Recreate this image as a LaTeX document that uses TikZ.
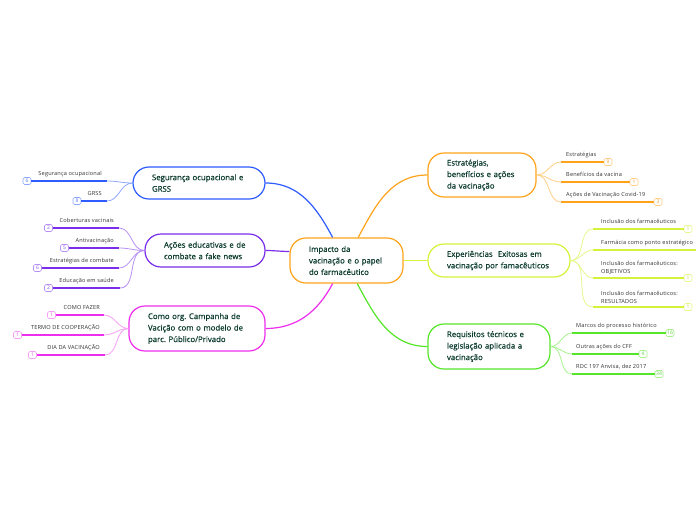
\documentclass[tikz,border=0pt]{standalone}
\usepackage{fontspec}
\setmainfont{Open Sans}
\newfontfamily\nodefont[FakeBold=0.5]{Open Sans}
\newfontfamily\leaffont[LetterSpace=3]{Open Sans}
\frenchspacing
\definecolor{nodetext}{HTML}{0B3B2E}
\definecolor{leaftext}{HTML}{333333}
\definecolor{corange}{HTML}{FFA31A}
\definecolor{lorange}{HTML}{FFCF85}
\definecolor{dorange}{HTML}{F5A030}
\definecolor{cygreen}{HTML}{D4F23A}
\definecolor{lygreen}{HTML}{E6F88C}
\definecolor{dygreen}{HTML}{BFDC30}
\definecolor{cgreen}{HTML}{55E62A}
\definecolor{lgreen}{HTML}{A6F28C}
\definecolor{dgreen}{HTML}{5CD040}
\definecolor{cblue}{HTML}{2E5CFF}
\definecolor{lblue}{HTML}{8FA8FF}
\definecolor{dblue}{HTML}{5C7CF0}
\definecolor{cpurple}{HTML}{7A2EEB}
\definecolor{lpurple}{HTML}{B890F5}
\definecolor{dpurple}{HTML}{8A50E8}
\definecolor{cmagenta}{HTML}{EE2EEE}
\definecolor{lmagenta}{HTML}{F5A0F5}
\definecolor{dmagenta}{HTML}{E050E0}
\begin{document}
\begin{tikzpicture}[x=1pt,y=-1pt,
  mainbox/.style n args={3}{draw=#1, line width=1.2pt, rounded corners=16pt, fill=white,
    font=\nodefont\fontsize{7.8}{11.5}\selectfont, text=nodetext, align=left,
    text width=#2, inner xsep=19pt, inner ysep=2pt, minimum height=#3},
  badge/.style n args={2}{draw=#1, fill=white, rounded corners=1.5pt, line width=0.6pt,
    minimum width=8pt, minimum height=7pt, inner sep=0.8pt,
    font=\fontsize{5}{5}\selectfont, text=#2},
  uline/.style={draw=#1, line width=1.6pt},
  twig/.style={draw=#1, line width=0.8pt},
  branch/.style={draw=#1, line width=1.2pt},
  leaf/.style={font=\leaffont\fontsize{5.6}{7.5}\selectfont, text=leaftext, inner sep=0pt, align=left}]
\fill[white] (0,0) rectangle (696,520);
\useasboundingbox (0,0) rectangle (696,520);

% main nodes
\node[mainbox={corange}{75pt}{45pt}] (core) at (346.5,260.5)
  {\mbox{Impacto da}\\\mbox{vacinação e o papel}\\\mbox{do farmacêutico}};
\node[mainbox={corange}{70pt}{44pt}] (estr) at (482,175)
  {\mbox{Estratégias,}\\\mbox{benefícios e ações}\\\mbox{da vacinação}};
\node[mainbox={cygreen}{104pt}{33pt}] (exp) at (499,260.5)
  {\mbox{Experiências\ \ Exitosas em}\\\mbox{vacinação por famacêuticos}};
\node[mainbox={cgreen}{84pt}{45pt}] (req) at (489,346.5)
  {\mbox{Requisitos técnicos e}\\\mbox{legislação aplicada a}\\\mbox{vacinação}};
\node[mainbox={cblue}{94pt}{32pt}] (seg) at (199,183)
  {\mbox{Segurança ocupacional e}\\\mbox{GRSS}};
\node[mainbox={cpurple}{82pt}{33pt}] (acoes) at (205,250.5)
  {\mbox{Ações educativas e de}\\\mbox{combate a fake news}};
\node[mainbox={cmagenta}{98pt}{45pt}] (como) at (197,328.5)
  {\mbox{Como org. Campanha de}\\\mbox{Vacição com o modelo de}\\\mbox{parc. Público/Privado}};

% main branches
\draw[branch=cblue] (core.121) to[out=118,in=0] (seg.east);
\draw[branch=cpurple] (core.171) to[out=180,in=0] (acoes.east);
\draw[branch=cmagenta] (core.239) to[out=-118,in=0] (como.east);
\draw[branch=corange] (core.63) to[out=62,in=180] (estr.west);
\draw[branch=cygreen] (core.east) -- (exp.west);
\draw[branch=cgreen] (core.295) to[out=-62,in=180] (req.west);

% ---- blue leaves
\coordinate (s1) at (107,181);
\node[badge={lblue}{dblue}] (s1b) at (27,181) {6};
\node[leaf, anchor=base east] (s1t) at (102,175.5) {Segurança ocupacional};
\draw[uline=cblue] (s1b.east) -- (s1);
\draw[twig=lblue] (seg.west) to[out=180,in=0] (s1);
\coordinate (s2) at (107,201);
\node[badge={lblue}{dblue}] (s2b) at (77,201) {8};
\node[leaf, anchor=base east] (s2t) at (102,195.5) {GRSS};
\draw[uline=cblue] (s2b.east) -- (s2);
\draw[twig=lblue] (seg.west) to[out=180,in=0] (s2);

% ---- purple leaves
\coordinate (a1) at (119,228);
\node[badge={lpurple}{dpurple}] (a1b) at (48.5,228) {2};
\node[leaf, anchor=base east] (a1t) at (114,222.5) {Coberturas vacinais};
\draw[uline=cpurple] (a1b.east) -- (a1);
\draw[twig=lpurple] (acoes.west) to[out=180,in=0] (a1);
\coordinate (a2) at (119,248);
\node[badge={lpurple}{dpurple}] (a2b) at (64.5,248) {5};
\node[leaf, anchor=base east] (a2t) at (114,242.5) {Antivacinação};
\draw[uline=cpurple] (a2b.east) -- (a2);
\draw[twig=lpurple] (acoes.west) to[out=180,in=0] (a2);
\coordinate (a3) at (119,268);
\node[badge={lpurple}{dpurple}] (a3b) at (37.5,268) {6};
\node[leaf, anchor=base east] (a3t) at (114,262.5) {Estratégias de combate};
\draw[uline=cpurple] (a3b.east) -- (a3);
\draw[twig=lpurple] (acoes.west) to[out=180,in=0] (a3);
\coordinate (a4) at (120,288);
\node[badge={lpurple}{dpurple}] (a4b) at (48.5,288) {2};
\node[leaf, anchor=base east] (a4t) at (114,282.5) {Educação em saúde};
\draw[uline=cpurple] (a4b.east) -- (a4);
\draw[twig=lpurple] (acoes.west) to[out=180,in=0] (a4);

% ---- magenta leaves
\coordinate (m1) at (104,315);
\node[badge={lmagenta}{dmagenta}] (m1b) at (51.5,315) {1};
\node[leaf, anchor=base east] (m1t) at (100,309.5) {COMO FAZER};
\draw[uline=cmagenta] (m1b.east) -- (m1);
\draw[twig=lmagenta] (como.west) to[out=180,in=0] (m1);
\coordinate (m2) at (104,335);
\node[badge={lmagenta}{dmagenta}] (m2b) at (17.5,335) {1};
\node[leaf, anchor=base east] (m2t) at (100,329.5) {TERMO DE COOPERAÇÃO};
\draw[uline=cmagenta] (m2b.east) -- (m2);
\draw[twig=lmagenta] (como.west) to[out=180,in=0] (m2);
\coordinate (m3) at (105,355);
\node[badge={lmagenta}{dmagenta}] (m3b) at (32.5,355) {1};
\node[leaf, anchor=base east] (m3t) at (100,349.5) {DIA DA VACINAÇÃO};
\draw[uline=cmagenta] (m3b.east) -- (m3);
\draw[twig=lmagenta] (como.west) to[out=180,in=0] (m3);

% ---- orange leaves
\coordinate (e1) at (561,162);
\node[badge={lorange}{dorange}] (e1b) at (608,162) {9};
\node[leaf, anchor=base west] (e1t) at (566,156.5) {Estratégias};
\draw[uline=corange] (e1) -- (e1b.west);
\draw[twig=lorange] (estr.east) to[out=0,in=180] (e1);
\coordinate (e2) at (561,182);
\node[badge={lorange}{dorange}] (e2b) at (634,182) {1};
\node[leaf, anchor=base west] (e2t) at (566,176.5) {Benefícios da vacina};
\draw[uline=corange] (e2) -- (e2b.west);
\draw[twig=lorange] (estr.east) to[out=0,in=180] (e2);
\coordinate (e3) at (561,202);
\node[badge={lorange}{dorange}] (e3b) at (658,202) {3};
\node[leaf, anchor=base west] (e3t) at (566,196.5) {Ações de Vacinação Covid-19};
\draw[uline=corange] (e3) -- (e3b.west);
\draw[twig=lorange] (estr.east) to[out=0,in=180] (e3);

% ---- yellow-green leaves
\coordinate (x1) at (593,229);
\node[badge={lygreen}{dygreen}] (x1b) at (688,229) {1};
\node[leaf, anchor=base west] (x1t) at (601,223.5) {Inclusão dos farmacêuticos};
\draw[uline=cygreen] (x1) -- (x1b.west);
\draw[twig=lygreen] (exp.east) to[out=0,in=180] (x1);
\coordinate (x2) at (593,250);
\coordinate (x2e) at (696,250);
\node[leaf, anchor=base west] (x2t) at (601,244.5) {Farmácia como ponto estratégico};
\draw[uline=cygreen] (x2) -- (x2e);
\draw[twig=lygreen] (exp.east) to[out=0,in=180] (x2);
\coordinate (x3) at (593,278);
\node[badge={lygreen}{dygreen}] (x3b) at (688,278) {1};
\node[leaf, anchor=south west] (x3t) at (601,274.5) {Inclusão dos farmacêuticos:\\OBJETIVOS};
\draw[uline=cygreen] (x3) -- (x3b.west);
\draw[twig=lygreen] (exp.east) to[out=0,in=180] (x3);
\coordinate (x4) at (593,307);
\node[badge={lygreen}{dygreen}] (x4b) at (688,307) {1};
\node[leaf, anchor=south west] (x4t) at (601,303.5) {Inclusão dos farmacêuticos:\\RESULTADOS};
\draw[uline=cygreen] (x4) -- (x4b.west);
\draw[twig=lygreen] (exp.east) to[out=0,in=180] (x4);

% ---- green leaves
\coordinate (r1) at (572,333);
\node[badge={lgreen}{dgreen}] (r1b) at (670,333) {16};
\node[leaf, anchor=base west] (r1t) at (576,327.5) {Marcos do processo histórico};
\draw[uline=cgreen] (r1) -- (r1b.west);
\draw[twig=lgreen] (req.east) to[out=0,in=180] (r1);
\coordinate (r2) at (572,354);
\node[badge={lgreen}{dgreen}] (r2b) at (643,354) {4};
\node[leaf, anchor=base west] (r2t) at (576,348.5) {Outras ações do CFF};
\draw[uline=cgreen] (r2) -- (r2b.west);
\draw[twig=lgreen] (req.east) to[out=0,in=180] (r2);
\coordinate (r3) at (572,374);
\node[badge={lgreen}{dgreen}] (r3b) at (659,374) {34};
\node[leaf, anchor=base west] (r3t) at (576,368.5) {RDC 197 Anvisa, dez 2017};
\draw[uline=cgreen] (r3) -- (r3b.west);
\draw[twig=lgreen] (req.east) to[out=0,in=180] (r3);
\end{tikzpicture}
\end{document}
